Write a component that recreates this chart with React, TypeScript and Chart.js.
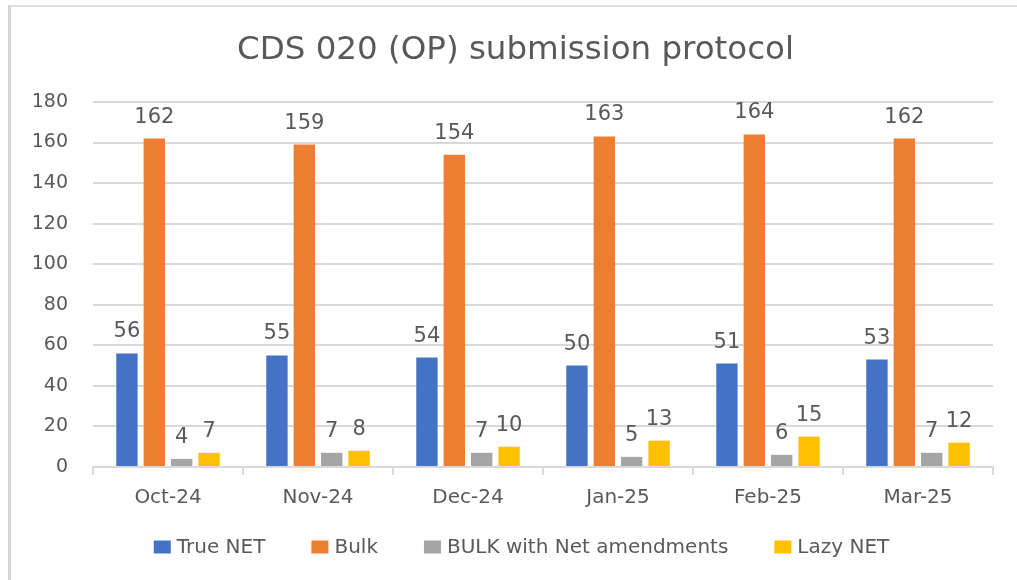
import React, { useEffect, useRef } from "react";
import { Chart, registerables } from "chart.js";

Chart.register(...registerables);

const categories = ["Oct-24", "Nov-24", "Dec-24", "Jan-25", "Feb-25", "Mar-25"];
const trueNet = [56, 55, 54, 50, 51, 53];
const bulk = [162, 159, 154, 163, 164, 162];
const bulkNetAmend = [4, 7, 7, 5, 6, 7];
const lazyNet = [7, 8, 10, 13, 15, 12];
const seriesNames = ["True NET", "Bulk", "BULK with Net amendments", "Lazy NET"];
const seriesColors = ["#4472C4", "#ED7D31", "#A5A5A5", "#FFC000"];
const yTicks = { min: 0, max: 180, step: 20 };
const titleText = "CDS 020 (OP) submission protocol";

const FONT = "'DejaVu Sans', sans-serif";
const TEXT = "#595959";
const GRID = "#d9d9d9";

const valueLabels = {
  id: "valueLabels",
  afterDatasetsDraw(chart: any) {
    const ctx = chart.ctx;
    ctx.save();
    ctx.font = `21px ${FONT}`;
    ctx.fillStyle = TEXT;
    ctx.textAlign = "center";
    ctx.textBaseline = "alphabetic";
    chart.data.datasets.forEach((ds: any, i: number) => {
      const meta = chart.getDatasetMeta(i);
      meta.data.forEach((el: any, j: number) => {
        ctx.fillText(String(ds.data[j]), el.x, el.y - 16);
      });
    });
    ctx.restore();
  },
};

const customLegend = {
  id: "customLegend",
  afterDraw(chart: any) {
    const ctx = chart.ctx;
    const boxW = 17;
    const boxH = 13;
    const gapText = 6;
    const gapItem = 46;
    const centerY = 547;
    ctx.save();
    ctx.font = `20px ${FONT}`;
    ctx.textBaseline = "middle";
    ctx.textAlign = "left";
    const items = chart.data.datasets.map((ds: any) => ({
      text: ds.label,
      color: ds.backgroundColor,
      w: ctx.measureText(ds.label).width,
    }));
    const total =
      items.reduce((s: number, it: any) => s + boxW + gapText + it.w, 0) +
      gapItem * (items.length - 1);
    let x = 521.5 - total / 2;
    items.forEach((it: any) => {
      ctx.fillStyle = it.color;
      ctx.fillRect(x, centerY - boxH / 2, boxW, boxH);
      x += boxW + gapText;
      ctx.fillStyle = TEXT;
      ctx.fillText(it.text, x, centerY + 1);
      x += it.w + gapItem;
    });
    ctx.restore();
  },
};

export default function App() {
  const ref = useRef<HTMLCanvasElement>(null);

  useEffect(() => {
    if (!ref.current) return;
    const data = [trueNet, bulk, bulkNetAmend, lazyNet];
    const chart = new Chart(ref.current, {
      type: "bar",
      data: {
        labels: categories,
        datasets: data.map((d, i) => ({
          label: seriesNames[i],
          data: d,
          backgroundColor: seriesColors[i],
          borderWidth: 0,
          categoryPercentage: 0.73,
          barPercentage: 0.78,
        })),
      },
      options: {
        responsive: false,
        animation: false,
        layout: { padding: { left: 38, right: 24, top: 0, bottom: 59 } },
        plugins: {
          legend: { display: false },
          tooltip: { enabled: false },
          title: {
            display: true,
            text: titleText,
            color: TEXT,
            font: { family: FONT, size: 32.5, weight: "normal" },
            padding: { top: 31, bottom: 32 },
          },
        },
        scales: {
          x: {
            grid: {
              drawOnChartArea: false,
              drawTicks: true,
              tickLength: 8,
              color: GRID,
              lineWidth: 2,
            },
            border: { display: true, color: GRID, width: 2 },
            ticks: {
              color: TEXT,
              font: { family: FONT, size: 20 },
              padding: 11,
              maxRotation: 0,
            },
          },
          y: {
            min: yTicks.min,
            max: yTicks.max,
            afterFit(scale: any) {
              scale.width = 55;
              scale._computeLabelArea = () => undefined;
            },
            grid: { drawTicks: false, color: GRID, lineWidth: 2 },
            border: { display: false },
            ticks: {
              stepSize: yTicks.step,
              color: TEXT,
              font: { family: FONT, size: 19 },
              padding: 25,
            },
          },
        },
      },
      plugins: [valueLabels, customLegend],
    });
    return () => chart.destroy();
  }, []);

  return (
    <div style={{ position: "fixed", left: 0, top: 0, width: 1017, height: 580, background: "#fff", overflow: "hidden" }}>
      <div
        style={{
          position: "absolute",
          left: 8,
          top: 5,
          width: 1100,
          height: 700,
          borderTop: "2px solid #dedede",
          borderLeft: "3px solid #d6d6d6",
        }}
      />
      <canvas ref={ref} width={1017} height={580} style={{ position: "absolute", left: 0, top: 0, display: "block" }} />
    </div>
  );
}
